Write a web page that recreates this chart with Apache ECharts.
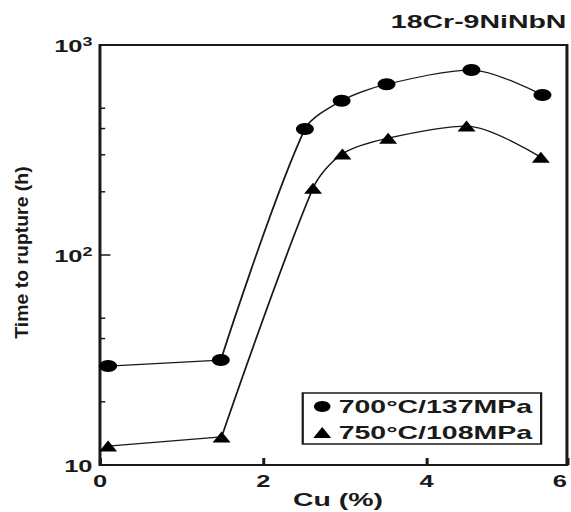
<!DOCTYPE html>
<html>
<head>
<meta charset="utf-8">
<script src="https://cdn.jsdelivr.net/npm/echarts@6/dist/echarts.min.js"></script>
<style>
  html, body { margin: 0; padding: 0; background: #fff; overflow: hidden; }
  /* the figure uses wide lettering and wide markers: draw narrow, then widen */
  #chart { width: 381px; height: 512px; transform: scaleX(1.4987); transform-origin: 0 0; }
</style>
</head>
<body>
<div id="chart"></div>
<script>
// Creep rupture life of 18Cr-9NiNbN steel versus Cu content
const seriesNames = ['700°C/137MPa', '750°C/108MPa'];

const cu700 = [0.1, 1.48, 2.51, 2.96, 3.51, 4.55, 5.42];
const life700 = [29.6, 31.6, 398, 543, 650, 760, 578];

const cu750 = [0.1, 1.49, 2.61, 2.97, 3.53, 4.49, 5.40];
const life750 = [12.3, 13.6, 208, 303, 360, 411, 292];

// axis ticks and labels
const xAxisMax = 5.72;
const xTickStep = 2;
const yMinorTicks = [20, 30, 40, 50, 200, 300, 400, 500];
const yTickLabels = { 10: '{b|10}', 100: '{b|10}{sup|2}', 1000: '{b|10}{sup|3}' };

const titleText = '18Cr-9NiNbN';
const xAxisTitle = 'Cu (%)';
const yAxisTitle = 'Time to rupture (h)';

const FONT = '"Liberation Sans", Arial, sans-serif';
const INK = '#1a1a1a';
const WEIGHT = 'bold';

const pairs = (xs, ys) => xs.map((x, i) => [x, ys[i]]);
const pts700 = pairs(cu700, life700);
const pts750 = pairs(cu750, life750);

function curveSeries(name, pts) {
  return [
    { // low-Cu plateau
      name: name + ' low', type: 'line', data: pts.slice(0, 2),
      showSymbol: false, silent: true, z: 2,
      lineStyle: { color: INK, width: 1.2 }
    },
    { // rise and maximum
      name: name + ' high', type: 'line', data: pts.slice(1),
      smooth: 0.3, showSymbol: false, silent: true, z: 2,
      lineStyle: { color: INK, width: 1.2 }
    }
  ];
}

const chart = echarts.init(document.getElementById('chart'), null, { renderer: 'svg' });

chart.setOption({
  animation: false,
  backgroundColor: '#fff',
  textStyle: { fontFamily: FONT },
  title: {
    text: titleText, right: 3, top: 12, padding: 0,
    textStyle: { fontFamily: FONT, fontSize: 19, fontWeight: WEIGHT, color: INK }
  },
  grid: {
    left: 66.7, right: 2.7, top: 45, bottom: 47,
    outerBoundsMode: 'none', containLabel: false,
    show: true, borderColor: INK, borderWidth: 2, backgroundColor: 'transparent'
  },
  legend: {
    orient: 'vertical', left: 202, top: 393,
    itemWidth: 12, itemHeight: 11, itemGap: 7,
    padding: [4, 6, 2, 7],
    borderColor: INK, borderWidth: 1.5,
    selectedMode: false,
    itemStyle: { opacity: 1 },
    textStyle: { fontFamily: FONT, fontSize: 19, fontWeight: WEIGHT, color: INK },
    data: [
      { name: seriesNames[0], icon: 'circle' },
      { name: seriesNames[1], icon: 'triangle' }
    ]
  },
  xAxis: {
    type: 'value', min: 0, max: xAxisMax, interval: xTickStep,
    name: xAxisTitle, nameLocation: 'middle', nameGap: 25, nameMoveOverlap: false,
    nameTextStyle: { fontFamily: FONT, fontSize: 19, fontWeight: WEIGHT, color: INK, padding: [0, 0, 0, 6] },
    axisLine: { show: false },
    axisTick: { show: true, inside: true, length: 7, lineStyle: { color: INK, width: 2 } },
    axisLabel: {
      margin: 8, fontFamily: FONT, fontSize: 17, fontWeight: WEIGHT, color: INK,
      alignMaxLabel: 'right',
      formatter: v => String(Math.round(v))
    },
    splitLine: { show: false }
  },
  yAxis: {
    type: 'log', logBase: 10, min: 10, max: 1000,
    axisLine: { show: false },
    axisTick: { show: true, inside: true, length: 7, lineStyle: { color: INK, width: 1.5 } },
    axisLabel: {
      margin: 5, color: INK,
      formatter: v => yTickLabels[Math.round(v)] || '',
      rich: {
        b: { fontFamily: FONT, fontSize: 17, fontWeight: WEIGHT, color: INK, lineHeight: 19, verticalAlign: 'bottom' },
        sup: { fontFamily: FONT, fontSize: 12, fontWeight: WEIGHT, color: INK, lineHeight: 12, verticalAlign: 'top' }
      }
    },
    splitLine: { show: false }
  },
  graphic: [{
    type: 'text', x: 14.7, y: 252.5, rotation: Math.PI / 2,
    scaleX: 1.08, scaleY: 1 / 1.4987,
    style: {
      text: yAxisTitle, fontFamily: FONT, fontSize: 18, fontWeight: WEIGHT, fill: INK,
      align: 'center', verticalAlign: 'middle'
    }
  }],
  series: [
    ...curveSeries(seriesNames[0], pts700),
    ...curveSeries(seriesNames[1], pts750),
    {
      name: seriesNames[0], type: 'scatter', data: pts700,
      symbol: 'circle', symbolSize: 12, z: 3,
      itemStyle: { color: '#000', opacity: 1 }
    },
    {
      name: seriesNames[1], type: 'scatter', data: pts750,
      symbol: 'triangle', symbolSize: [12, 11], z: 3,
      itemStyle: { color: '#000', opacity: 1 }
    },
    { // minor ticks of the log axis at 2..5 of each decade
      name: 'minor ticks', type: 'custom', silent: true, clip: false,
      data: yMinorTicks.map(v => [0, v]),
      renderItem: (params, api) => {
        const p = api.coord([0, api.value(1)]);
        return {
          type: 'line',
          shape: { x1: p[0], y1: p[1], x2: p[0] + 3.5, y2: p[1] },
          style: { stroke: INK, lineWidth: 1.5 }
        };
      }
    }
  ]
});
</script>
</body>
</html>
